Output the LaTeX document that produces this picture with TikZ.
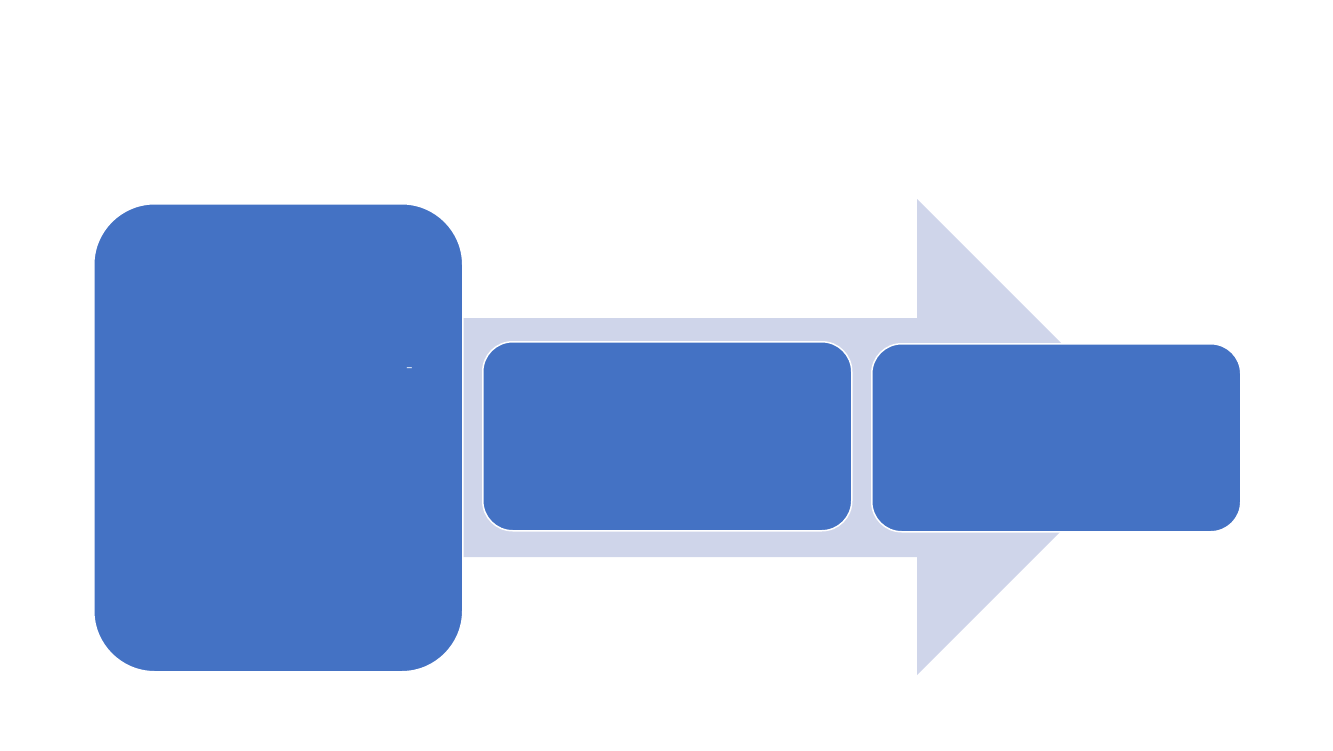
\documentclass[tikz,border=0pt]{standalone}
\usepackage{tikz}

\definecolor{boxblue}{HTML}{4472C4}
\definecolor{arrowgrey}{HTML}{CFD5EA}

\tikzset{
    stagebox/.style={draw=white, line width=1.5pt, fill=boxblue,
        inner sep=0pt, anchor=north west},
}

\begin{document}
\begin{tikzpicture}[x=1pt, y=-1pt]

    \useasboundingbox (0,0) rectangle (1333,750);

    % arrow behind the boxes
    \fill[arrowgrey] (440,318) -- (917,318) -- (917,199) -- (1155,437)
        -- (917,675) -- (917,557) -- (440,557) -- cycle;

    \node[stagebox, rounded corners=61pt, minimum width=369pt, minimum height=468pt]
        (start) at (93,203) {};

    \node[stagebox, rounded corners=30pt, minimum width=369pt, minimum height=189pt]
        (middle) at (482,341) {};

    \node[stagebox, rounded corners=30pt, minimum width=369pt, minimum height=188pt]
        (finish) at (871,343) {};

    \node[text=white, inner sep=0pt, font=\fontsize{20}{20}\selectfont]
        (mark) at (410,370) {-};

\end{tikzpicture}
\end{document}
